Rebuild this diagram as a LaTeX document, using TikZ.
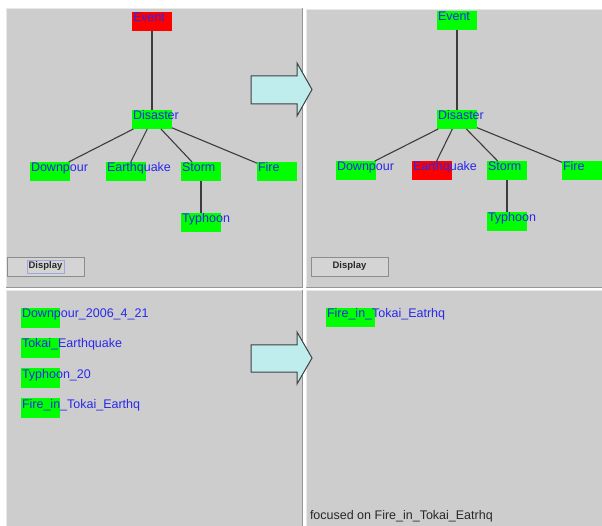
\documentclass[tikz,border=0pt]{standalone}
\usepackage{fontspec}
\setmainfont{Liberation Sans}
\definecolor{ngreen}{RGB}{0,255,0}
\definecolor{nred}{RGB}{255,0,0}
\definecolor{nblue}{RGB}{40,40,235}
\definecolor{edgec}{RGB}{60,60,60}
\definecolor{panelc}{RGB}{205,205,205}
\definecolor{lightc}{RGB}{232,232,232}
\definecolor{darkc}{RGB}{150,150,150}
\definecolor{btnc}{RGB}{212,212,212}
\definecolor{btnline}{RGB}{140,140,140}
\definecolor{focusc}{RGB}{160,165,225}
\definecolor{arrowc}{RGB}{191,237,237}
\definecolor{arrowline}{RGB}{64,64,64}
\definecolor{textdark}{RGB}{40,40,40}
\newcommand\mytn[4]{%
  \node[#3] (#1) at (#2) {};
  \node[lbl] (#1-t) at ([xshift=1pt,yshift=-10pt]#1.north west) {#4};}
\begin{document}
\begin{tikzpicture}[x=1pt,y=-1pt,
  every node/.style={inner sep=0pt, outer sep=0pt},
  nbox/.style={anchor=north west, minimum width=40pt, minimum height=19pt, draw=none},
  gbox/.style={nbox, fill=ngreen},
  rbox/.style={nbox, fill=nred},
  lbl/.style={anchor=base west, text=nblue, font=\fontsize{12.5}{14}\selectfont},
  edge/.style={draw=edgec, line width=1.1pt},
  btn/.style={anchor=north west, minimum width=77pt, minimum height=19pt, fill=btnc, draw=btnline, line width=0.8pt},
  btntext/.style={font=\fontsize{9.5}{11}\selectfont\bfseries, text=textdark},
  bigarrow/.style={fill=arrowc, draw=arrowline, line width=1pt, line join=miter}]
\useasboundingbox (0,0) rectangle (602,526);
\fill[white] (0,0) rectangle (602,526);
% panels
\fill[panelc] (6,8) rectangle (303,288);
\draw[lightc, line width=1pt] (6.5,288) -- (6.5,8.5) -- (303,8.5);
\draw[darkc, line width=1pt] (302.5,8.5) -- (302.5,287.5) -- (6,287.5);
\fill[panelc] (306,9) rectangle (602,288);
\draw[lightc, line width=1pt] (306.5,288) -- (306.5,9.5) -- (602,9.5);
\draw[darkc, line width=1pt] (306,287.5) -- (602,287.5);
\fill[panelc] (6,290) rectangle (303,526);
\draw[lightc, line width=1pt] (6.5,526) -- (6.5,290.5) -- (303,290.5);
\draw[darkc, line width=1pt] (302.5,290.5) -- (302.5,526);
\fill[panelc] (306,290) rectangle (602,526);
\draw[lightc, line width=1pt] (306.5,526) -- (306.5,290.5) -- (602,290.5);
% left tree
\mytn{ev1}{132,12}{rbox}{Event}
\mytn{di1}{132,110}{gbox}{Disaster}
\mytn{dp1}{30,162}{gbox}{Downpour}
\mytn{eq1}{106,162}{gbox}{Earthquake}
\mytn{st1}{181,162}{gbox}{Storm}
\mytn{fi1}{257,162}{gbox}{Fire}
\mytn{ty1}{181,213}{gbox}{Typhoon}
\draw[edge] (ev1) -- (di1);
\draw[edge] (di1) -- (dp1);
\draw[edge] (di1) -- (eq1);
\draw[edge] (di1) -- (st1);
\draw[edge] (di1) -- (fi1);
\draw[edge] (st1) -- (ty1);
% right tree
\mytn{ev2}{437,11}{gbox}{Event}
\mytn{di2}{437,110}{gbox}{Disaster}
\mytn{dp2}{336,161}{gbox}{Downpour}
\mytn{eq2}{412,161}{rbox}{Earthquake}
\mytn{st2}{487,161}{gbox}{Storm}
\mytn{fi2}{562,161}{gbox}{Fire}
\mytn{ty2}{487,212}{gbox}{Typhoon}
\draw[edge] (ev2) -- (di2);
\draw[edge] (di2) -- (dp2);
\draw[edge] (di2) -- (eq2);
\draw[edge] (di2) -- (st2);
\draw[edge] (di2) -- (fi2);
\draw[edge] (st2) -- (ty2);
% buttons
\node[btn] (btn1) at (7,257) {};
\node[btntext, draw=focusc, line width=0.6pt, inner xsep=1.5pt, inner ysep=2pt] (btn1-t) at (btn1.center) {Display};
\node[btn] (btn2) at (311,257) {};
\node[btntext] (btn2-t) at (btn2.center) {Display};
% bottom-left list
\mytn{l1}{21,308}{gbox, minimum width=39pt, minimum height=20pt}{Downpour\_2006\_4\_21}
\mytn{l2}{21,338}{gbox, minimum width=39pt, minimum height=20pt}{Tokai\_Earthquake}
\mytn{l3}{21,368}{gbox, minimum width=39pt, minimum height=20pt}{Typhoon\_20}
\mytn{l4}{21,398}{gbox, minimum width=39pt, minimum height=20pt}{Fire\_in\_Tokai\_Earthq}
% bottom-right
\mytn{r1}{326,308}{gbox, minimum width=49pt}{Fire\_in\_Tokai\_Eatrhq}
\node[anchor=base west, font=\fontsize{12.5}{14}\selectfont, text=textdark] (focus) at (310,519) {focused on Fire\_in\_Tokai\_Eatrhq};
% big arrows
\draw[bigarrow] (251,76) -- (297,76) -- (297,63) -- (312,89.5) -- (297,116) -- (297,104) -- (251,104) -- cycle;
\draw[bigarrow] (251,345) -- (297,345) -- (297,332) -- (312,358) -- (297,384) -- (297,372) -- (251,372) -- cycle;
\end{tikzpicture}
\end{document}
